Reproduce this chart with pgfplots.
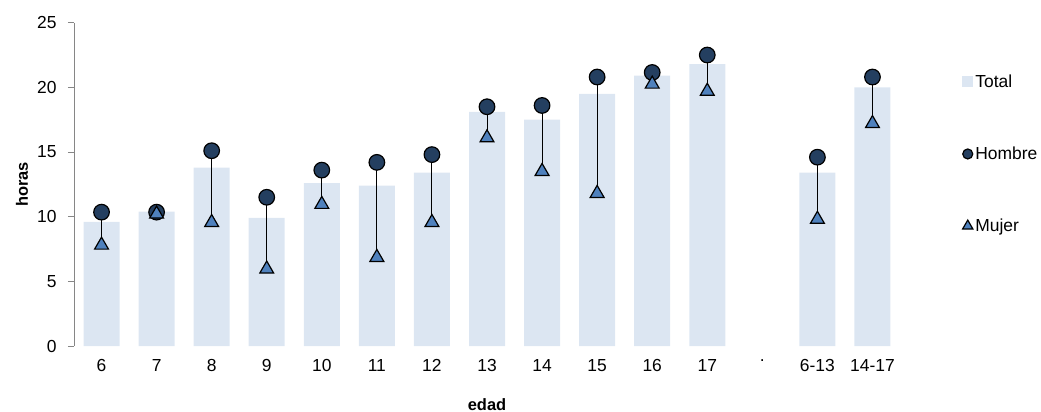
\documentclass[border=0pt]{standalone}
\usepackage{fontspec}
\setmainfont{Liberation Sans}
\usepackage{pgfplots}
\usepackage{pgfplotstable}
\pgfplotsset{compat=1.18}

\definecolor{barfill}{HTML}{DCE6F2}
\definecolor{hombre}{HTML}{243F60}
\definecolor{mujer}{HTML}{4F81BD}
\definecolor{axisgray}{HTML}{868686}

% x: posicion de la categoria, t: total, h: hombre, m: mujer
\pgfplotstableread{
x  t     h      m
0  9.6   10.35  7.8
1  10.4  10.35  10.2
2  13.8  15.1   9.55
3  9.9   11.5   5.95
4  12.6  13.6   10.95
5  12.4  14.2   6.85
6  13.4  14.8   9.55
7  18.1  18.5   16.1
8  17.5  18.6   13.5
9  19.5  20.8   11.8
10 20.9  21.15  20.25
11 21.8  22.5   19.7
13 13.4  14.6   9.8
14 20.0  20.8   17.2
}\datos

\begin{document}
\begin{tikzpicture}
\begin{axis}[
    scale only axis,
    width=826bp, height=323.3bp,
    xmin=-0.5, xmax=14.5,
    ymin=0, ymax=25,
    ytick={0,5,...,25},
    xtick={0,...,14},
    xticklabels={6,7,8,9,10,11,12,13,14,15,16,17,.,6-13,14-17},
    axis lines*=left,
    x axis line style={draw=none},
    y axis line style={-, draw=axisgray, line width=0.8bp},
    ytick style={draw=axisgray, line width=0.8bp},
    xtick style={draw=none},
    tick align=outside,
    major tick length=6bp,
    /pgf/number format/assume math mode=true,
    ticklabel style={font=\fontsize{17.5}{20}\selectfont},
    yticklabel style={xshift=-8bp},
    xticklabel style={yshift=-4bp},
    xlabel={edad},
    ylabel={horas},
    label style={font=\bfseries\fontsize{16.5}{19}\selectfont},
    xlabel style={at={(axis description cs:0.5,0)}, anchor=base, yshift=-64bp},
    ylabel style={at={(axis description cs:-0.0557,0.5)}, anchor=base},
    legend style={draw=none, fill=none,
        at={(axis description cs:1.075,0.594)}, anchor=west,
        row sep=54bp, column sep=0bp, inner sep=0pt,
        font=\fontsize{17.5}{20}\selectfont,
        nodes={inner sep=2bp}},
    legend cell align=left,
]
\addplot[ybar, bar width=36bp, fill=barfill, draw=none,
    legend image code/.code={\fill[barfill] (0bp,-5.5bp) rectangle (11bp,5.5bp);}]
    table[x=x, y=t]{\datos};
\addlegendentry{Total}

\addplot[draw=none, mark=none, forget plot,
    error bars/.cd, y dir=minus, y explicit, error mark=none,
    error bar style={black, line width=0.9bp}]
    table[x=x, y=h, y error minus expr=\thisrow{h}-\thisrow{m}]{\datos};

\addplot[only marks, mark=*, mark size=7.8bp,
    mark options={fill=hombre, draw=black, line width=1.2bp},
    legend image code/.code={\draw[fill=hombre, draw=black, line width=1.2bp] (5.5bp,0bp) circle (5bp);}]
    table[x=x, y=h]{\datos};
\addlegendentry{Hombre}

\addplot[only marks, mark=triangle*, mark size=8bp,
    mark options={fill=mujer, draw=black, line width=1.2bp},
    legend image code/.code={\draw[fill=mujer, draw=black, line width=1.2bp] plot[mark=triangle*, mark size=6bp] coordinates {(5.5bp,0bp)};}]
    table[x=x, y=m]{\datos};
\addlegendentry{Mujer}
\end{axis}
\pgfresetboundingbox
\useasboundingbox (-74bp,-66bp) rectangle (967bp,346bp);
\end{tikzpicture}
\end{document}
